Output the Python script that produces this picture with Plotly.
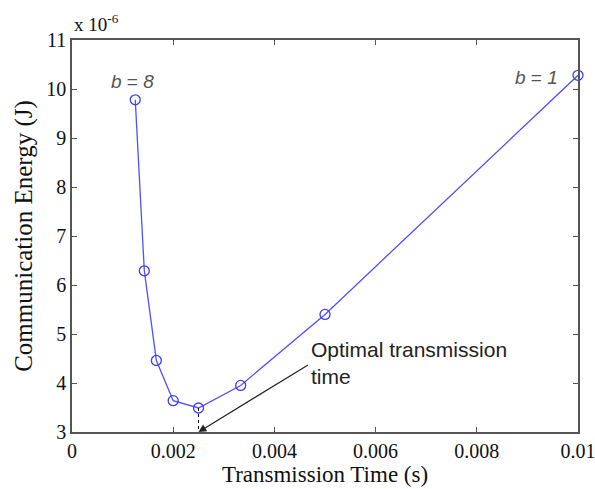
import plotly.graph_objects as go

b_values = [8, 7, 6, 5, 4, 3, 2, 1]
tx_time = [0.00125, 0.001429, 0.001667, 0.002, 0.0025, 0.003333, 0.005, 0.01]
energy = [9.78, 6.29, 4.46, 3.64, 3.49, 3.95, 5.40, 10.28]
x_ticks = [0, 0.002, 0.004, 0.006, 0.008, 0.01]
x_tick_labels = ["0", "0.002", "0.004", "0.006", "0.008", "0.01"]
y_ticks = [3, 4, 5, 6, 7, 8, 9, 10, 11]

opt_idx = energy.index(min(energy))

fig = go.Figure()
fig.add_trace(go.Scatter(
    x=tx_time, y=energy, mode="lines+markers",
    line=dict(color="#5050ff", width=1.3),
    marker=dict(symbol="circle-open", size=10, color="#3c3cff", line=dict(width=1.3)),
    showlegend=False, cliponaxis=False,
))
fig.add_trace(go.Scatter(
    x=[tx_time[opt_idx], tx_time[opt_idx]], y=[energy[opt_idx], 3],
    mode="lines", line=dict(color="black", width=1, dash="dot"),
    showlegend=False,
))

serif = "Liberation Serif"
sans = "Liberation Sans"
tickfont = dict(family=serif, size=20, color="#111")
fig.update_layout(
    width=595, height=489,
    margin=dict(l=72, r=17, t=40, b=57, autoexpand=False),
    paper_bgcolor="white", plot_bgcolor="white",
    font=dict(family=serif, size=20, color="#111"),
    xaxis=dict(range=[0, 0.01], tickvals=x_ticks, ticktext=x_tick_labels, tickfont=tickfont,
               ticks="inside", ticklen=5, tickcolor="#555", mirror="ticks",
               ticklabeloverflow="allow", automargin=False,
               showline=True, linecolor="#555", linewidth=1.5, showgrid=False,
               zeroline=False,
               title=dict(text="Transmission Time (s)", font=dict(size=23, family=serif, color="#111"), standoff=0)),
    yaxis=dict(range=[3, 11], tickvals=y_ticks, tickfont=tickfont,
               ticks="inside", ticklen=5, tickcolor="#555", mirror="ticks",
               ticklabeloverflow="allow", automargin=False,
               showline=True, linecolor="#555", linewidth=1.5, showgrid=False,
               zeroline=False,
               title=dict(text="Communication Energy (J)", font=dict(size=25, family=serif, color="#111"), standoff=7)),
    annotations=[
        dict(x=0, y=1, xref="paper", yref="paper", xanchor="left", yanchor="bottom",
             text="x 10<sup>-6</sup>", showarrow=False, font=dict(size=19, family=serif, color="#111"),
             yshift=3),
        dict(x=tx_time[0], y=energy[0], text="<i>b</i> = <i>8</i>", showarrow=False, yshift=18, xshift=-3,
             font=dict(size=19, family=sans, color="#555"), xanchor="center"),
        dict(x=tx_time[-1], y=energy[-1], text="<i>b</i> = <i>1</i>", showarrow=False, xshift=-18, yshift=-2,
             xanchor="right", font=dict(size=19, family=sans, color="#555")),
        dict(x=tx_time[opt_idx], y=3, ax=111, ay=-68, axref="pixel", ayref="pixel",
             text="", showarrow=True, arrowhead=2, arrowsize=1.3, arrowwidth=1.2, arrowcolor="#222"),
        dict(x=0.00468, y=4.41, text="Optimal transmission<br>time", showarrow=False,
             xanchor="left", yanchor="middle", align="left",
             font=dict(size=21, family=sans, color="#222")),
    ],
)
fig.write_html("out.html", config={"displayModeBar": False},
               post_script="document.body.style.margin='0px';document.body.style.overflow='hidden';")
